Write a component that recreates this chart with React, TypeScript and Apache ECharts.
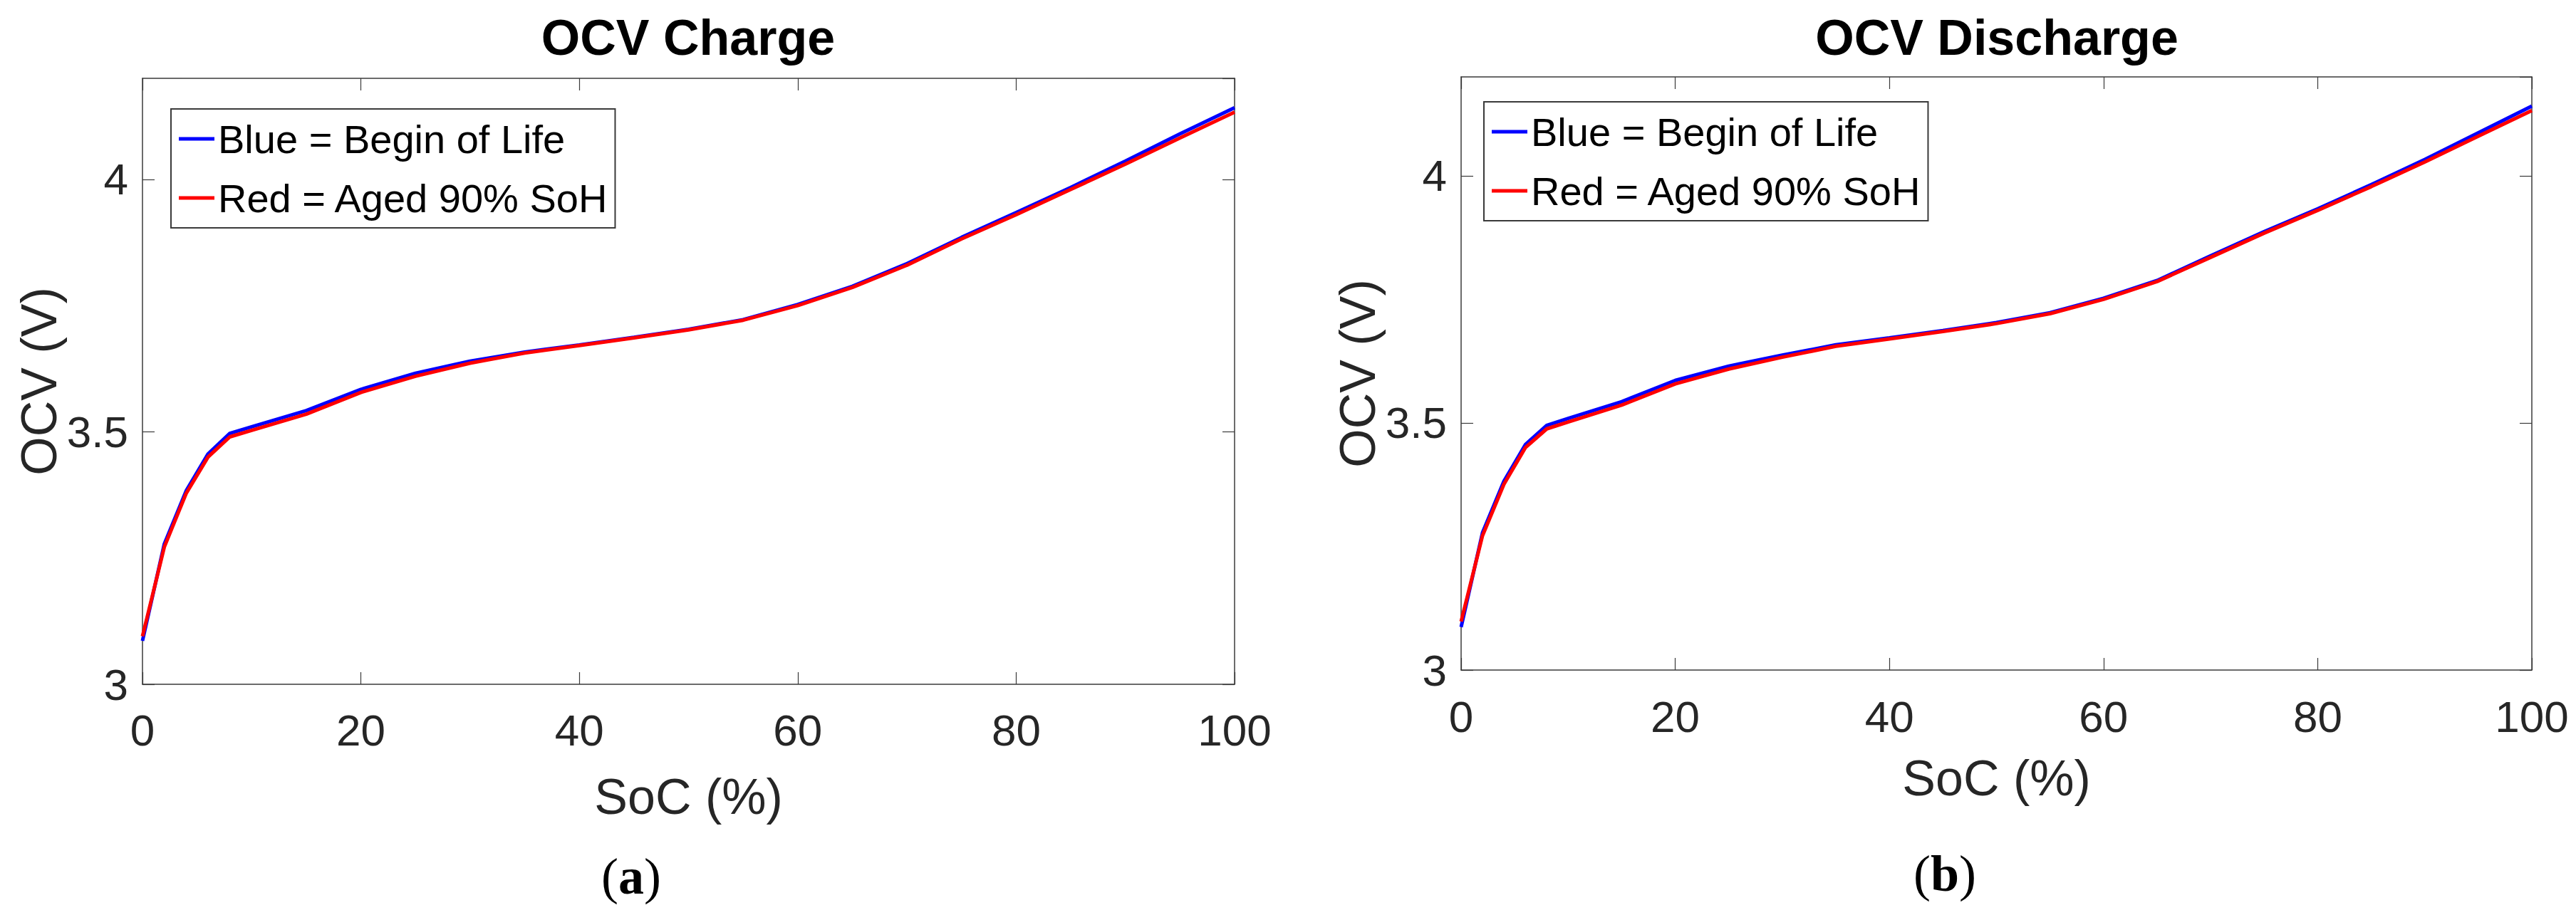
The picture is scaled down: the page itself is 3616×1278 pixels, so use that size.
import React, { useEffect, useRef } from "react";
import * as echarts from "echarts";

// ---- data ----
const socPoints = [0, 2, 4, 6, 8, 10, 15, 20, 25, 30, 35, 40, 45, 50, 55, 60, 65, 70, 75, 80, 85, 90, 95, 100];

const chargeBeginOfLife = [3.086, 3.278, 3.383, 3.456, 3.497, 3.510, 3.542, 3.584, 3.616, 3.640, 3.658, 3.672, 3.687, 3.703, 3.722, 3.752, 3.788, 3.833, 3.885, 3.934, 3.984, 4.036, 4.090, 4.142];
const chargeAged = [3.095, 3.272, 3.378, 3.450, 3.490, 3.503, 3.535, 3.578, 3.610, 3.636, 3.656, 3.671, 3.686, 3.702, 3.721, 3.750, 3.786, 3.830, 3.882, 3.930, 3.980, 4.030, 4.082, 4.133];

const dischargeBeginOfLife = [3.087, 3.278, 3.382, 3.456, 3.495, 3.509, 3.543, 3.586, 3.615, 3.637, 3.658, 3.672, 3.687, 3.703, 3.723, 3.752, 3.788, 3.838, 3.887, 3.933, 3.982, 4.033, 4.087, 4.141];
const dischargeAged = [3.098, 3.272, 3.376, 3.450, 3.488, 3.502, 3.536, 3.579, 3.609, 3.633, 3.655, 3.670, 3.685, 3.701, 3.721, 3.750, 3.786, 3.835, 3.884, 3.930, 3.978, 4.028, 4.080, 4.132];

const panelTitles = ["OCV Charge", "OCV Discharge"];
const panelTags = ["a", "b"];
const legendNames = ["Blue = Begin of Life", "Red = Aged 90% SoH"];
const xAxisTitle = "SoC (%)";
const yAxisTitle = "OCV (V)";

const SANS = '"Liberation Sans", Arial, Helvetica, sans-serif';
const SERIF = '"Liberation Serif", "Times New Roman", serif';
const AX = "#3a3a3a";
const TXT = "#262626";

const zip = (xs: number[], ys: number[]) => xs.map((x, i) => [x, ys[i]]);

function buildOption() {
  const grids = [
    { left: 200, top: 110, width: 1533, height: 851 },
    { left: 2051, top: 108, width: 1503, height: 833 },
  ];
  const tickMargin = [33, 34];
  const xNameGap = [123, 117];
  const yNameGap = [106, 102];

  const xAxis: any[] = [];
  const yAxis: any[] = [];
  grids.forEach((_, gi) => {
    const line = { show: true, onZero: false, lineStyle: { color: AX, width: 1.5 } };
    const tick = { show: true, inside: true, length: 17, lineStyle: { color: AX, width: 1.2 } };
    xAxis.push({
      gridIndex: gi, type: "value", position: "bottom", min: 0, max: 100, interval: 20,
      axisLine: line, axisTick: tick, splitLine: { show: false },
      axisLabel: { fontSize: 62, color: TXT, fontFamily: SANS, margin: tickMargin[gi] },
      name: xAxisTitle, nameLocation: "middle", nameGap: xNameGap[gi],
      nameTextStyle: { fontSize: 70, color: TXT, fontFamily: SANS },
    });
    xAxis.push({
      gridIndex: gi, type: "value", position: "top", min: 0, max: 100, interval: 20,
      axisLine: line, axisTick: tick, splitLine: { show: false }, axisLabel: { show: false },
    });
    yAxis.push({
      gridIndex: gi, type: "value", position: "left", min: 3, max: 4.2, interval: 0.5,
      axisLine: line, axisTick: tick, splitLine: { show: false },
      axisLabel: {
        fontSize: 62, color: TXT, fontFamily: SANS, margin: 20, showMaxLabel: false,
        formatter: (v: number) => (Math.abs(v * 2 - Math.round(v * 2)) < 1e-6 ? String(v) : ""),
      },
      name: yAxisTitle, nameLocation: "middle", nameGap: yNameGap[gi],
      nameTextStyle: { fontSize: 70, color: TXT, fontFamily: SANS },
    });
    yAxis.push({
      gridIndex: gi, type: "value", position: "right", min: 3, max: 4.2, interval: 0.5,
      axisLine: line, axisTick: tick, splitLine: { show: false }, axisLabel: { show: false },
    });
  });

  const panels = [
    [chargeBeginOfLife, chargeAged],
    [dischargeBeginOfLife, dischargeAged],
  ];
  const colors = ["#0000ff", "#ff0000"];
  const series: any[] = [];
  panels.forEach((pair, gi) => {
    pair.forEach((vals, si) => {
      series.push({
        type: "line", name: legendNames[si], xAxisIndex: gi * 2, yAxisIndex: gi * 2,
        data: zip(socPoints, vals), showSymbol: false, symbol: "none",
        lineStyle: { color: colors[si], width: 5 }, itemStyle: { color: colors[si] },
        z: 2 + si,
      });
    });
  });

  const legendPos = [
    { left: 240, top: 153 },
    { left: 2083, top: 143 },
  ];
  const legend = legendPos.map((p) => ({
    ...p, orient: "vertical", data: legendNames, icon: "rect",
    itemWidth: 50, itemHeight: 5, itemGap: 21,
    padding: [11, 8, 11, 11], backgroundColor: "#ffffff",
    borderColor: AX, borderWidth: 2, selectedMode: false,
    textStyle: { fontSize: 56, color: "#000000", fontFamily: SANS, lineHeight: 62 },
  }));

  const titleCenters = [
    { x: 966, y: 53 },
    { x: 2803, y: 53 },
  ];
  const tagCenters = [
    { x: 886, y: 1231 },
    { x: 2730, y: 1227 },
  ];
  const graphic: any[] = [];
  titleCenters.forEach((c, i) => {
    graphic.push({
      type: "text", x: c.x, y: c.y,
      style: {
        text: panelTitles[i], fill: "#000000", fontSize: 70, fontWeight: "bold", fontFamily: SANS,
        align: "center", verticalAlign: "middle", textAlign: "center", textVerticalAlign: "middle",
      },
    });
  });
  tagCenters.forEach((c, i) => {
    graphic.push({
      type: "text", x: c.x, y: c.y,
      style: {
        text: "{p|(}{b|" + panelTags[i] + "}{p|)}",
        align: "center", verticalAlign: "middle", textAlign: "center", textVerticalAlign: "middle",
        rich: {
          p: { fontSize: 72, fontFamily: SERIF, fill: "#000000", fontWeight: "normal" },
          b: { fontSize: 72, fontFamily: SERIF, fill: "#000000", fontWeight: "bold" },
        },
      },
    });
  });

  return {
    animation: false,
    backgroundColor: "#ffffff",
    grid: grids,
    xAxis, yAxis, series, legend, graphic,
  };
}

export default function App() {
  const ref = useRef<HTMLDivElement>(null);
  useEffect(() => {
    document.body.style.margin = "0";
    document.body.style.overflow = "hidden";
    if (!ref.current) return;
    const chart = echarts.init(ref.current, undefined, { renderer: "svg" });
    chart.setOption(buildOption() as any);
    return () => chart.dispose();
  }, []);
  return <div ref={ref} style={{ width: 3616, height: 1278 }} />;
}
